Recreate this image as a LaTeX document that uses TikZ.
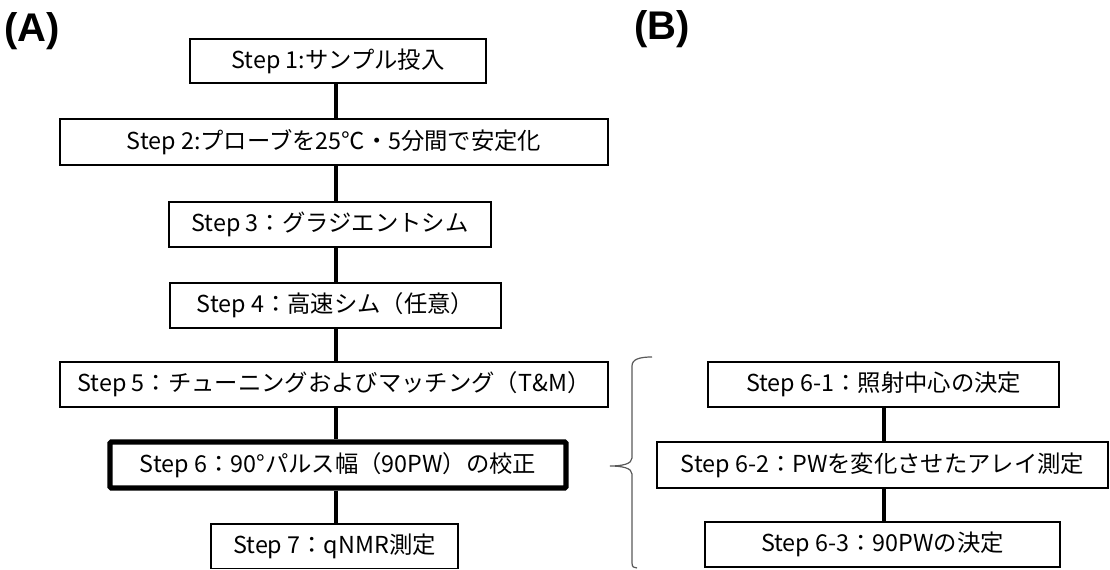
\documentclass[tikz,border=0pt]{standalone}
\usepackage{fontspec}
\setmainfont{Noto Sans CJK JP}
\newfontfamily\labfont{Liberation Sans}
\begin{document}
\begin{tikzpicture}[x=0.75pt,y=-0.75pt,
  box/.style={draw=black, line width=1.3pt, inner sep=0pt, align=center, font=\fontsize{17.5}{20}\selectfont},
  sz/.style 2 args={minimum width=#1*0.75pt, minimum height=#2*0.75pt},
  thickbox/.style={box, line width=4pt, rounded corners=1pt},
  conn/.style={draw=black, line width=3.5pt},
  brace/.style={draw=black!65, line width=0.9pt},
  lab/.style={font=\labfont\bfseries\fontsize{30}{34}\selectfont, inner sep=0pt}]
\useasboundingbox (0,0) rectangle (1110,570);

% labels
\node[lab] (labA) at (32,31) {(A)};
\node[lab] (labB) at (662,29) {(B)};

% column A
\node[box, sz={296}{44}] (b1) at (338,61) {Step 1:サンプル投入};
\node[box, sz={548}{46}] (b2) at (334,142) {Step 2:プローブを25℃・5分間で安定化};
\node[box, sz={322}{45}] (b3) at (330,224.5) {Step 3：グラジエントシム};
\node[box, sz={331}{45}] (b4) at (335.5,305.5) {Step 4：高速シム（任意）};
\node[box, sz={548}{45}] (b5) at (334,384.5) {Step 5：チューニングおよびマッチング（T\&M）};
\node[thickbox, sz={456}{46}] (b6) at (338,465) {Step 6：90°パルス幅（90PW）の校正};
\node[box, sz={247}{44.5}] (b7) at (334.5,546.25) {Step 7：qNMR測定};

\coordinate (axA) at (336,0);
\draw[conn] (b1.south -| axA) -- (b2.north -| axA);
\draw[conn] (b2.south -| axA) -- (b3.north -| axA);
\draw[conn] (b3.south -| axA) -- (b4.north -| axA);
\draw[conn] (b4.south -| axA) -- (b5.north -| axA);
\draw[conn] (b5.south -| axA) -- (b6.north -| axA);
\draw[conn] (b6.south -| axA) -- (b7.north -| axA);

% column B
\node[box, sz={351}{45}] (c1) at (883.5,384.5) {Step 6-1：照射中心の決定};
\node[box, sz={451}{46}] (c2) at (882.5,465) {Step 6-2：PWを変化させたアレイ測定};
\node[box, sz={355}{45}] (c3) at (882.5,544.5) {Step 6-3：90PWの決定};

\coordinate (axB) at (884,0);
\draw[conn] (c1.south -| axB) -- (c2.north -| axB);
\draw[conn] (c2.south -| axB) -- (c3.north -| axB);

% brace
\draw[brace] (652,357) .. controls (640,357) and (632,359) .. (632,366)
  -- (632,458) .. controls (632,464) and (622,466) .. (610,466)
  .. controls (622,466) and (632,468) .. (632,474)
  -- (632,563) .. controls (632,567) and (634,568) .. (637,568);
\end{tikzpicture}
\end{document}
